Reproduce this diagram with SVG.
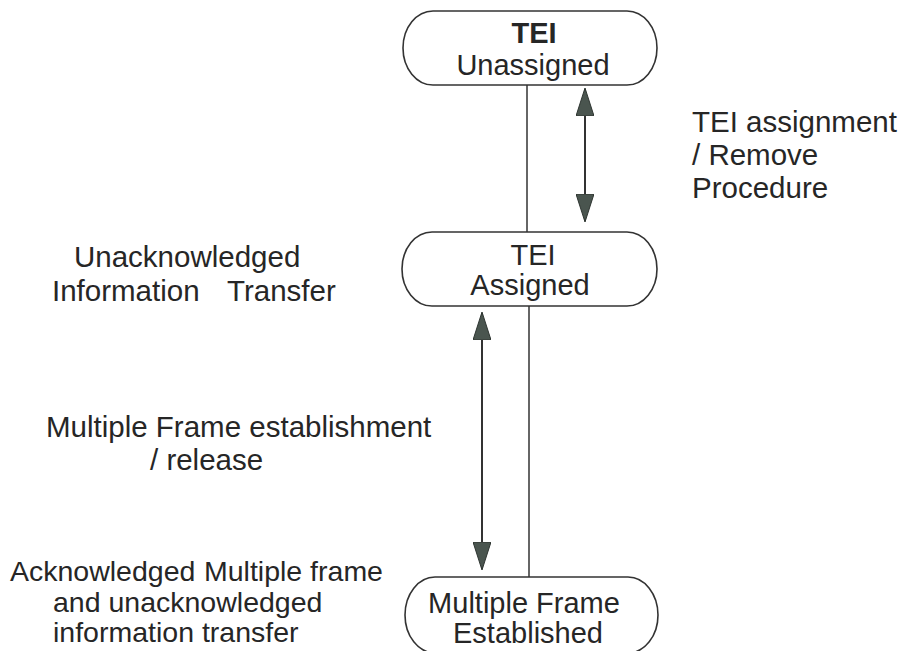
<svg xmlns="http://www.w3.org/2000/svg" width="905" height="651" viewBox="0 0 905 651">
  <style>
    .state { fill: #ffffff; stroke: #333333; stroke-width: 1.6; }
    .label { font-family: "Liberation Sans", Arial, sans-serif; font-size: 29.5px; fill: #262626; }
    .small { font-size: 28.5px; }
    .name { font-family: "Liberation Sans", Arial, sans-serif; font-size: 29px; fill: #262626; text-anchor: middle; }
    .bold { font-weight: bold; }
    .link { stroke: #333333; stroke-width: 1.5; fill: none; }
    .trans { stroke: #333333; stroke-width: 2; fill: none; marker-start: url(#head); marker-end: url(#head); }
  </style>
  <defs>
    <marker id="head" viewBox="0 0 28 18" markerWidth="28" markerHeight="18" refX="27" refY="9" markerUnits="userSpaceOnUse" orient="auto-start-reverse">
      <path d="M0,0 L28,9 L0,18 Z" fill="#4a554f" stroke="#2e3531" stroke-width="1"/>
    </marker>
  </defs>

  <rect width="905" height="651" fill="#ffffff"/>

  <!-- connectors -->
  <g id="connectors">
    <line class="link" x1="527" y1="85" x2="527" y2="232"/>
    <line class="link" x1="529" y1="306" x2="529" y2="577"/>
    <line class="trans" x1="585" y1="89" x2="585" y2="221"/>
    <line class="trans" x1="482" y1="313" x2="482" y2="569"/>
  </g>

  <!-- states -->
  <g id="tei-unassigned">
    <rect class="state" x="403" y="11" width="254" height="74" rx="30" ry="37"/>
    <text class="name bold" x="534" y="43">TEI</text>
    <text class="name" x="533" y="75">Unassigned</text>
  </g>

  <g id="tei-assigned">
    <rect class="state" x="402" y="232" width="255" height="74" rx="30" ry="37"/>
    <text class="name" x="533" y="265">TEI</text>
    <text class="name" x="530" y="295">Assigned</text>
  </g>

  <g id="multiple-frame-established">
    <rect class="state" x="405" y="577" width="253" height="76" rx="30" ry="38"/>
    <text class="name" x="524" y="613">Multiple Frame</text>
    <text class="name" x="528" y="643">Established</text>
  </g>

  <!-- procedure notes -->
  <g id="note-tei-procedure">
    <text class="label" x="692" y="132">TEI assignment</text>
    <text class="label" x="692" y="165">/ Remove</text>
    <text class="label" x="692" y="198">Procedure</text>
  </g>

  <g id="note-unack">
    <text class="label" x="74" y="267">Unacknowledged</text>
    <text class="label" x="52" y="301">Information</text>
    <text class="label" x="227" y="301">Transfer</text>
  </g>

  <g id="note-mf-establish">
    <text class="label" x="46" y="437">Multiple Frame establishment</text>
    <text class="label" x="150" y="470">/ release</text>
  </g>

  <g id="note-ack">
    <text class="label small" x="10" y="581">Acknowledged<tspan x="204">Multiple frame</tspan></text>
    <text class="label small" x="53" y="612">and unacknowledged</text>
    <text class="label small" x="53" y="642">information transfer</text>
  </g>
</svg>
